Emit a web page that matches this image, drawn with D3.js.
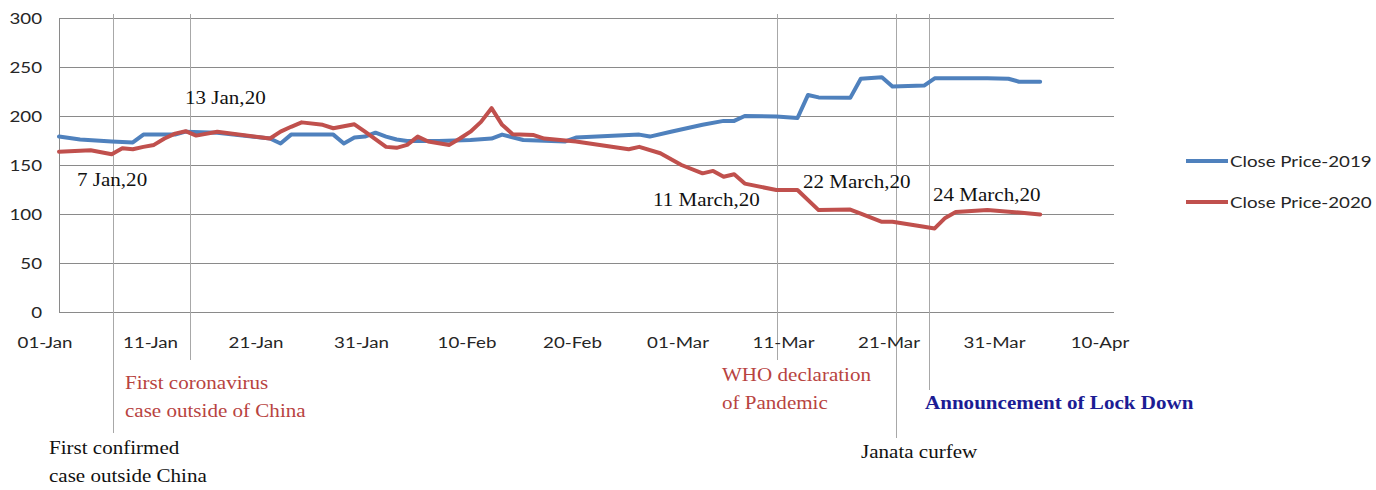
<!DOCTYPE html>
<html>
<head>
<meta charset="utf-8">
<script src="https://cdn.jsdelivr.net/npm/d3@7"></script>
<style>
  html, body { margin: 0; padding: 0; background: #fff; }
  svg { display: block; }
  .sans { font-family: Lato, "Open Sans", sans-serif; font-size: 16px; fill: #262626; }
  .serif { font-family: "Liberation Serif", "Times New Roman", serif; font-size: 18px; fill: #111; }
</style>
</head>
<body>
<svg id="chart" width="1376" height="490"></svg>
<script>
// Close price series (month-day, 2020 calendar positions)
const close2019Dates = ["01-01","01-03","01-06","01-08","01-09","01-12","01-13","01-16","01-21","01-22",
  "01-23","01-27","01-28","01-29","01-30","01-31","02-01","02-02","02-03","02-06",
  "02-09","02-11","02-12","02-14","02-18","02-19","02-25","02-26","02-28","03-02",
  "03-04","03-05","03-06","03-09","03-11","03-12","03-13","03-16","03-17","03-19",
  "03-20","03-23","03-24","03-29","03-31","04-01","04-03"];
const close2019 = [179,176,174,173,181,181,184,183,177,172,
  181,181,172,178,179,183,179,176,174.5,174.5,
  175.5,177,181,175.5,174,178,181,179,184,191,
  195,195,200,199.5,198,221.5,219,218.5,238,239.5,
  230,231,238.5,238.5,238,235,235];

const close2020Dates = ["01-01","01-04","01-06","01-07","01-08","01-09","01-10","01-11","01-12","01-13",
  "01-14","01-16","01-21","01-22","01-23","01-24","01-26","01-27","01-29","01-30",
  "02-01","02-02","02-03","02-04","02-05","02-07","02-08","02-09","02-10","02-11",
  "02-12","02-13","02-15","02-16","02-19","02-24","02-25","02-27","02-29","03-02",
  "03-03","03-04","03-05","03-06","03-09","03-11","03-13","03-16","03-17","03-19",
  "03-20","03-23","03-24","03-25","03-26","03-29","04-01","04-03"];
const close2020 = [163.5,165,161,167,166,168.5,170.5,177,182,184.5,
  180,184,177,184,189,193.5,191,187.5,191.5,184,
  168.5,167.5,170.5,179,174,170.5,177,184,194,208,
  191,181.5,180.5,177,174,166,168.5,162,150,141.5,
  144,138,140.5,131,124.5,124.5,104,104.5,100.5,92,
  92,87,85.3,96,102,104,101.5,99.5];

const seriesNames = ["Close Price-2019", "Close Price-2020"];
const seriesColors = ["#4f81bd", "#c0504d"];

const yTicks = [0, 50, 100, 150, 200, 250, 300];
const xTickLabels = ["01-Jan","11-Jan","21-Jan","31-Jan","10-Feb","20-Feb","01-Mar","11-Mar","21-Mar","31-Mar","10-Apr"];

// Event markers: vertical guide lines with their date captions
const eventTimes = ["2020-01-06T03:00","2020-01-13T10:00","2020-03-09T01:00","2020-03-20T08:00","2020-03-23T11:00"];
const eventLineBottoms = [433, 360, 360, 438, 390];
const eventLabels = ["7 Jan,20","13 Jan,20","11 March,20","22 March,20","24 March,20"];

// Event descriptions below the axis
const notes = [
  { lines: ["First coronavirus", "case outside of China"], color: "#b8433f", bold: false },
  { lines: ["First confirmed", "case outside China"], color: "#111", bold: false },
  { lines: ["WHO declaration", "of Pandemic"], color: "#b8433f", bold: false },
  { lines: ["Janata curfew"], color: "#111", bold: false },
  { lines: ["Announcement of Lock Down"], color: "#1c1c94", bold: true }
];

const W = 1376, H = 490;
const margin = { left: 59, right: W - 1114, top: 18, bottom: H - 312 };
const STRETCH = 1.17;

const svg = d3.select("#chart");
const parseDay = s => d3.utcParse("%Y-%m-%d")("2020-" + s);
const parseTime = d3.utcParse("%Y-%m-%dT%H:%M");

const x = d3.scaleUtc()
  .domain([parseDay("01-01"), parseDay("04-10")])
  .range([margin.left, W - margin.right]);
const y = d3.scaleLinear()
  .domain([0, 300])
  .range([H - margin.bottom, margin.top]);

// horizontally widened text helper
function txt(g, px, py, str, cls) {
  return g.append("text")
    .attr("class", cls)
    .attr("transform", `translate(${px},${py}) scale(${STRETCH},1)`)
    .text(str);
}

// Gridlines
svg.append("g").selectAll("line").data(yTicks).join("line")
  .attr("x1", x.range()[0]).attr("x2", x.range()[1])
  .attr("y1", d => y(d) + 0.5).attr("y2", d => y(d) + 0.5)
  .attr("stroke", "#8a8a8a").attr("stroke-width", 1);

// Left axis line
svg.append("line")
  .attr("x1", x.range()[0] + 0.5).attr("x2", x.range()[0] + 0.5)
  .attr("y1", y(300)).attr("y2", y(0))
  .attr("stroke", "#8a8a8a");

// Event guide lines
svg.append("g").selectAll("line").data(eventTimes).join("line")
  .attr("x1", d => Math.round(x(parseTime(d))) + 0.5)
  .attr("x2", d => Math.round(x(parseTime(d))) + 0.5)
  .attr("y1", 14)
  .attr("y2", (d, i) => eventLineBottoms[i])
  .attr("stroke", "#a8a8a8").attr("stroke-width", 1);

// Y tick labels
const yg = svg.append("g");
yTicks.forEach(t => {
  txt(yg, 42, y(t), String(t), "sans").attr("text-anchor", "end").attr("dy", "0.36em");
});

// X tick labels, one every 10 days from 01-Jan
const xTicks = d3.range(xTickLabels.length).map(k => d3.utcDay.offset(parseDay("01-01"), 10 * k));
const xg = svg.append("g");
xTicks.forEach((t, i) => {
  txt(xg, x(t) - 14, 342, xTickLabels[i], "sans").attr("text-anchor", "middle").attr("dy", "0.36em");
});

// Series lines
const line = d3.line()
  .x(d => x(d[0]))
  .y(d => y(d[1]));
const series = [
  close2019Dates.map((d, i) => [parseDay(d), close2019[i]]),
  close2020Dates.map((d, i) => [parseDay(d), close2020[i]])
];
svg.append("g").selectAll("path").data(series).join("path")
  .attr("d", line)
  .attr("fill", "none")
  .attr("stroke", (d, i) => seriesColors[i])
  .attr("stroke-width", 4)
  .attr("stroke-linejoin", "round")
  .attr("stroke-linecap", "round");

// Event date captions
const capPos = [[77, 180], [185, 98], [653, 200], [803, 182], [933, 195]];
const cg = svg.append("g");
eventLabels.forEach((s, i) => {
  txt(cg, capPos[i][0], capPos[i][1], s, "serif").attr("dy", "0.33em");
});

// Notes below axis
const notePos = [[125, 383], [49, 448], [722, 375], [861, 452], [925, 403]];
const ng = svg.append("g");
notes.forEach((n, i) => {
  n.lines.forEach((s, j) => {
    txt(ng, notePos[i][0], notePos[i][1] + j * 28, s, "serif")
      .attr("dy", "0.33em")
      .style("fill", n.color)
      .style("font-weight", n.bold ? "bold" : "normal");
  });
});

// Legend
const lg = svg.append("g");
seriesNames.forEach((name, i) => {
  const ly = 161 + i * 41;
  lg.append("line")
    .attr("x1", 1186).attr("x2", 1228)
    .attr("y1", ly).attr("y2", ly)
    .attr("stroke", seriesColors[i]).attr("stroke-width", 4);
  txt(lg, 1230, ly, name, "sans").attr("dy", "0.36em");
});
</script>
</body>
</html>
